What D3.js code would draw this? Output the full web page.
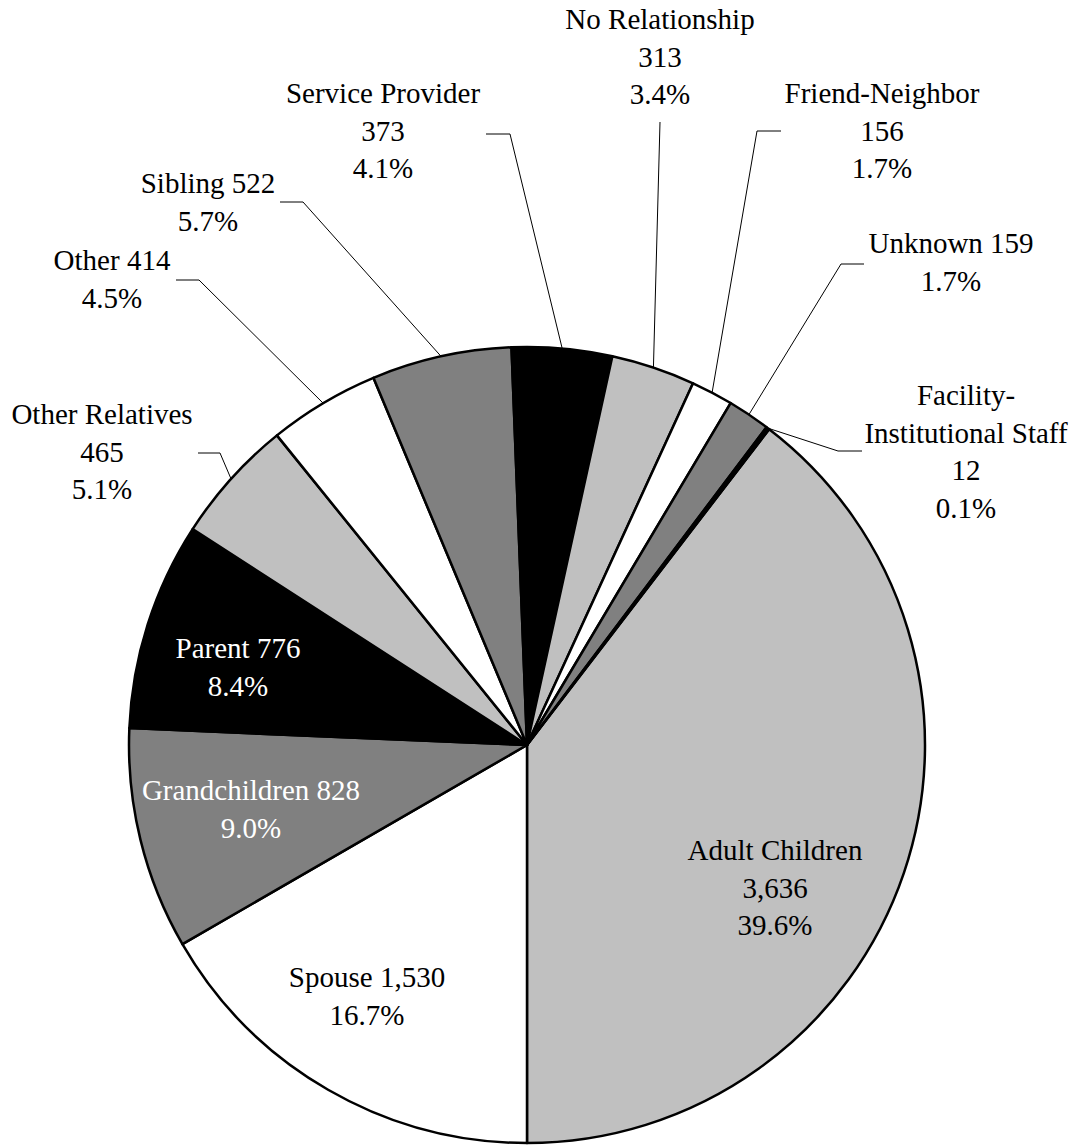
<!DOCTYPE html>
<html>
<head>
<meta charset="utf-8">
<script src="https://cdn.jsdelivr.net/npm/d3@7"></script>
<style>
  body { margin: 0; background: #fff; }
  svg { display: block; }
</style>
</head>
<body>
<svg></svg>
<script>
// slice data, clockwise from the big slice
const categories = ["Adult Children", "Spouse", "Grandchildren", "Parent", "Other Relatives", "Other",
    "Sibling", "Service Provider", "No Relationship", "Friend-Neighbor", "Unknown", "Facility-Institutional Staff"];
const counts = [3636, 1530, 828, 776, 465, 414, 522, 373, 313, 156, 159, 12];

// label layout: how the text is broken and where it sits (offset from pie centre)
// mode 3 = name / value / pct, 2 = name value / pct, 4 = name split at hyphen / value / pct
const labelMode = [3, 2, 2, 2, 3, 2, 2, 3, 3, 3, 2, 4];
const labelPos = [[248, 115], [-160, 242], [-276, 55], [-289, -87], [-425, -321], [-415, -475],
    [-319, -552], [-144, -642], [133, -716], [355, -642], [424, -492], [439, -340]];
// leader lines: start point and elbow (null = no leader)
const leaders = [null, null, null, null,
    [[-329, -292], [-307, -292]],
    [[-351, -465], [-328, -465]],
    [[-247, -543], [-224, -543]],
    [[-41, -611], [-17, -611]],
    [[133, -623], null],
    [[254, -614], [230, -614]],
    [[337, -481], [314, -481]],
    [[335, -294], [311, -294]]];
const whiteText = [2, 3];

const width = 1077, height = 1145;
const cx = 527, cy = 745, radius = 398;
const fontSize = 29, lineH = 37.5;

const data = categories.map((c, i) => ({ name: c, value: counts[i], i }));
const total = d3.sum(counts);
const start = Math.PI - 2 * Math.PI * counts[0] / total;

const pie = d3.pie().sort(null).value(d => d.value)
    .startAngle(start).endAngle(start + 2 * Math.PI);
const arcs = pie(data);

const arc = d3.arc().innerRadius(0).outerRadius(radius);
const edge = d3.arc().innerRadius(radius).outerRadius(radius);

const color = d3.scaleOrdinal()
    .domain(d3.range(4))
    .range(["#c0c0c0", "#ffffff", "#808080", "#000000"]);

const fmt = d3.format(",");
const pct = d3.format(".1%");

const svg = d3.select("svg")
    .attr("width", width)
    .attr("height", height)
    .attr("font-family", "'Liberation Serif', 'Times New Roman', serif")
    .attr("font-size", fontSize);

const g = svg.append("g").attr("transform", `translate(${cx},${cy})`);

g.append("g")
  .selectAll("path")
  .data(arcs)
  .join("path")
    .attr("d", arc)
    .attr("fill", d => color(d.index % 4))
    .attr("stroke", "#000")
    .attr("stroke-width", 2.5)
    .attr("stroke-linejoin", "round");

// leader lines
g.append("g")
    .attr("fill", "none")
    .attr("stroke", "#000")
    .attr("stroke-width", 1)
  .selectAll("path")
  .data(arcs.filter(d => leaders[d.index]))
  .join("path")
    .attr("d", d => {
        const [s, e] = leaders[d.index];
        const p = edge.centroid(d);
        const pts = e ? [s, e, p] : [s, p];
        return d3.line()(pts);
    });

const lines = d => {
    const name = d.data.name, v = fmt(d.data.value), p = pct(d.data.value / total);
    const m = labelMode[d.index];
    if (m === 3) return [name, v, p];
    if (m === 2) return [name + " " + v, p];
    const k = name.indexOf("-") + 1;
    return [name.slice(0, k), name.slice(k), v, p];
};

const label = g.append("g")
    .attr("text-anchor", "middle")
  .selectAll("text")
  .data(arcs)
  .join("text")
    .attr("fill", d => whiteText.includes(d.index) ? "#fff" : "#000")
    .attr("transform", d => `translate(${labelPos[d.index][0]},${labelPos[d.index][1]})`);

label.selectAll("tspan")
  .data(d => lines(d))
  .join("tspan")
    .attr("x", 0)
    .attr("y", (t, j) => j * lineH)
    .text(t => t);
</script>
</body>
</html>
